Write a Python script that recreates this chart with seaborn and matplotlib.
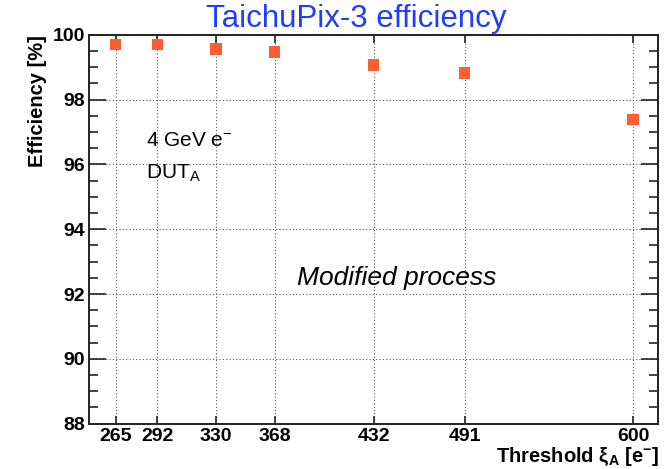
import matplotlib
matplotlib.use("Agg")
import matplotlib.pyplot as plt
import seaborn as sns
import pandas as pd
from matplotlib.ticker import MultipleLocator, FixedLocator

thresholds = [265, 292, 330, 368, 432, 491, 600]
efficiency = [99.69, 99.69, 99.56, 99.46, 99.07, 98.82, 97.38]
tick_labels = ["265", "292", "330", "368", "432", "491", "600"]
yticks = [88, 90, 92, 94, 96, 98, 100]

df = pd.DataFrame({"Threshold": thresholds, "Efficiency": efficiency})

sns.set_theme(style="ticks")
plt.rcParams["font.family"] = ["Liberation Sans", "DejaVu Sans"]
plt.rcParams["text.color"] = "black"
plt.rcParams["axes.labelcolor"] = "black"
plt.rcParams["mathtext.fontset"] = "custom"
plt.rcParams["mathtext.rm"] = "Liberation Sans"
plt.rcParams["mathtext.it"] = "Liberation Sans:italic"
plt.rcParams["mathtext.bf"] = "Liberation Sans:bold"

fig = plt.figure(figsize=(6.72, 4.69), dpi=100)
ax = fig.add_axes([0.1329, 0.0966, 0.847, 0.8294])

sns.scatterplot(data=df, x="Threshold", y="Efficiency", marker="s", s=68,
                color="#ff5e33", edgecolor="none", ax=ax, zorder=3)

ax.set_xlim(248, 616.5)
ax.set_ylim(88, 100)
ax.xaxis.set_major_locator(FixedLocator(thresholds))
ax.set_xticklabels(tick_labels)
ax.yaxis.set_major_locator(FixedLocator(yticks))
ax.yaxis.set_minor_locator(MultipleLocator(0.5))

ax.grid(True, which="major", linestyle=(0, (1, 2)), color="#555555", linewidth=0.8)
ax.set_axisbelow(True)

for s in ax.spines.values():
    s.set_visible(True)
    s.set_color("#222222")
    s.set_linewidth(1.4)

ax.tick_params(axis="both", which="both", direction="in", top=True, right=True,
               colors="#222222", labelcolor="black")
ax.tick_params(axis="y", which="major", length=12, width=1.2, labelsize=14, pad=3)
ax.tick_params(axis="y", which="minor", length=6.5, width=1.2)
ax.tick_params(axis="x", which="major", length=6, width=1.2, labelsize=14, pad=3)
for lab in ax.get_xticklabels() + ax.get_yticklabels():
    lab.set_fontweight("bold")

ax.set_xlabel(r"Threshold $\mathbf{\xi_{A}}$ [e$^{\mathbf{-}}$]", fontsize=14.5,
              fontweight="bold", loc="right", labelpad=0)
ax.set_ylabel("Efficiency [%]", fontsize=14.5, fontweight="bold", loc="top", labelpad=4)

fig.text(0.53, 0.960, "TaichuPix-3 efficiency", color="#1f3cff", fontsize=22.5,
         ha="center", va="center")

ax.text(284.5, 96.75, r"4 GeV e$^{-}$", fontsize=15, ha="left", va="center")
ax.text(284.5, 95.73, r"DUT$_{\mathrm{A}}$", fontsize=15, ha="left", va="center")
ax.text(382.5, 92.49, "Modified process", fontsize=19, style="italic",
        ha="left", va="center")

fig.savefig("out.png", dpi=100)
